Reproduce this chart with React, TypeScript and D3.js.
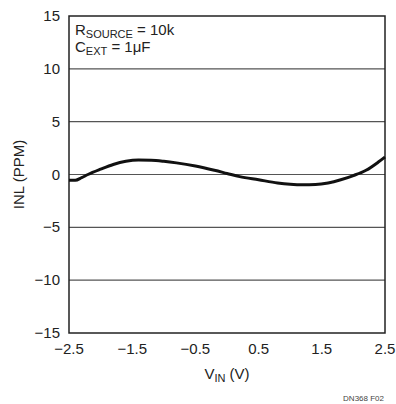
import React, { useEffect, useRef } from "react";
import * as d3 from "d3";

const vin = [-2.5, -2.4, -2.3, -2.2, -2.0, -1.8, -1.6, -1.4, -1.2, -1.0, -0.8, -0.5, -0.2, 0.0, 0.2, 0.5, 0.8, 1.0, 1.2, 1.4, 1.6, 1.8, 2.0, 2.2, 2.4, 2.5];
const inl = [-0.55, -0.55, -0.3, 0.0, 0.5, 0.95, 1.25, 1.37, 1.35, 1.25, 1.1, 0.8, 0.4, 0.1, -0.2, -0.5, -0.8, -0.92, -0.97, -0.95, -0.8, -0.5, -0.1, 0.4, 1.2, 1.65];
const xTicks = [-2.5, -1.5, -0.5, 0.5, 1.5, 2.5];
const yTicks = [-15, -10, -5, 0, 5, 10, 15];

const fmt = (v: number) => (v < 0 ? "\u2212" + Math.abs(v) : String(v));

const App: React.FC = () => {
    const svgRef = useRef<SVGSVGElement | null>(null);

    useEffect(() => {
        if (!svgRef.current) return;
        const svg = d3.select(svgRef.current);
        svg.selectAll("*").remove();

        const margin = { top: 16, right: 11, bottom: 71, left: 69 };
        const width = 396, height = 404;
        const innerWidth = width - margin.left - margin.right;
        const innerHeight = height - margin.top - margin.bottom;
        const font = "'Liberation Sans Narrow', 'Arial Narrow', 'Liberation Sans', Arial, sans-serif";

        const x = d3.scaleLinear().domain([-2.5, 2.5]).range([0, innerWidth]);
        const y = d3.scaleLinear().domain([-15, 15]).range([innerHeight, 0]);

        const g = svg.append("g").attr("transform", `translate(${margin.left},${margin.top})`);

        // gridlines
        g.selectAll("line.grid")
            .data(yTicks.filter(t => t > -15 && t < 15))
            .enter()
            .append("line")
            .attr("x1", 0)
            .attr("x2", innerWidth)
            .attr("y1", d => y(d))
            .attr("y2", d => y(d))
            .attr("stroke", "#555")
            .attr("stroke-width", 1.2);

        // frame
        g.append("rect")
            .attr("x", 0)
            .attr("y", 0)
            .attr("width", innerWidth)
            .attr("height", innerHeight)
            .attr("fill", "none")
            .attr("stroke", "#222")
            .attr("stroke-width", 1.5);

        // y tick labels
        g.selectAll("text.yt")
            .data(yTicks)
            .enter()
            .append("text")
            .attr("x", -9)
            .attr("y", d => y(d) + 5)
            .attr("text-anchor", "end")
            .attr("font-family", font)
            .attr("font-size", 15)
            .attr("fill", "#222")
            .text(d => fmt(d));

        // x tick labels
        g.selectAll("text.xt")
            .data(xTicks)
            .enter()
            .append("text")
            .attr("x", d => x(d))
            .attr("y", innerHeight + 21)
            .attr("text-anchor", "middle")
            .attr("font-family", font)
            .attr("font-size", 15)
            .attr("fill", "#222")
            .text(d => fmt(d));

        // curve
        const line = d3.line<number>()
            .x((_, i) => x(vin[i]))
            .y(d => y(d))
            .curve(d3.curveMonotoneX);
        g.append("path")
            .datum(inl)
            .attr("d", line)
            .attr("fill", "none")
            .attr("stroke", "#111")
            .attr("stroke-width", 3);

        // axis titles
        const xt = svg.append("text")
            .attr("x", margin.left + innerWidth / 2)
            .attr("y", 379)
            .attr("text-anchor", "middle")
            .attr("font-family", font)
            .attr("font-size", 15)
            .attr("fill", "#222");
        xt.append("tspan").text("V");
        xt.append("tspan").attr("font-size", 11).attr("dy", 3).text("IN");
        xt.append("tspan").attr("dy", -3).text(" (V)");

        svg.append("text")
            .attr("transform", `translate(24,${margin.top + innerHeight / 2}) rotate(-90)`)
            .attr("text-anchor", "middle")
            .attr("font-family", font)
            .attr("font-size", 15)
            .attr("fill", "#222")
            .text("INL (PPM)");

        // annotation
        const a1 = g.append("text")
            .attr("x", 6)
            .attr("y", 19)
            .attr("font-family", font)
            .attr("font-size", 15)
            .attr("fill", "#222");
        a1.append("tspan").text("R");
        a1.append("tspan").attr("font-size", 11).attr("dy", 3).text("SOURCE");
        a1.append("tspan").attr("dy", -3).text(" = 10k");

        const a2 = g.append("text")
            .attr("x", 6)
            .attr("y", 36)
            .attr("font-family", font)
            .attr("font-size", 15)
            .attr("fill", "#222");
        a2.append("tspan").text("C");
        a2.append("tspan").attr("font-size", 11).attr("dy", 3).text("EXT");
        a2.append("tspan").attr("dy", -3).text(" = 1\u03bcF");

        svg.append("text")
            .attr("x", 384)
            .attr("y", 401)
            .attr("text-anchor", "end")
            .attr("font-family", font)
            .attr("font-size", 8)
            .attr("fill", "#444")
            .text("DN368 F02");
    }, []);

    return (
        <svg
            ref={svgRef}
            width={396}
            height={404}
            style={{ position: "absolute", left: 0, top: 0, background: "#fff" }}
        />
    );
};

export default App;
